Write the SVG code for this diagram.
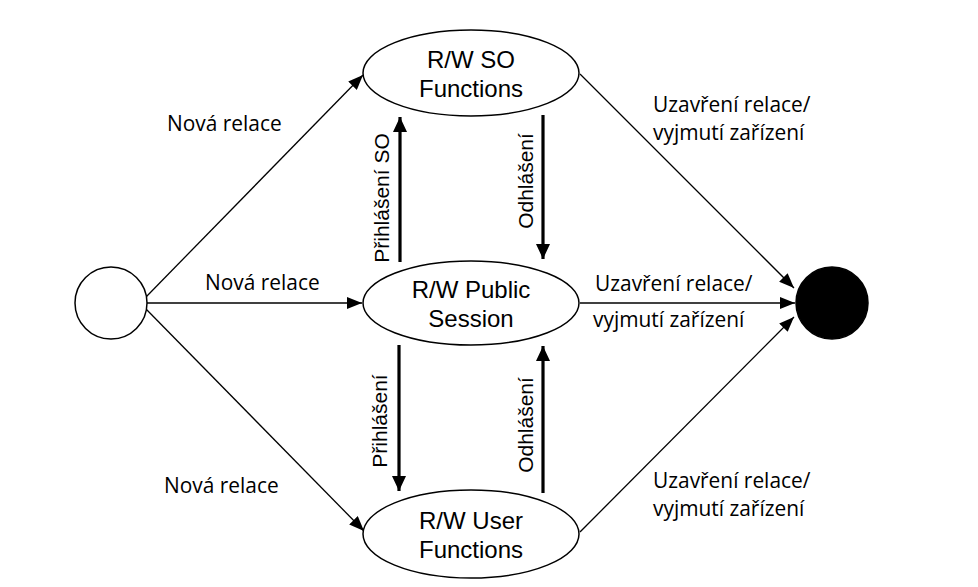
<svg xmlns="http://www.w3.org/2000/svg" width="978" height="587" viewBox="0 0 978 587">
<style>
.node{fill:#fff;stroke:#000;stroke-width:1.5}
.final{fill:#000;stroke:#000;stroke-width:1.5}
.nl{font-family:"Liberation Sans",Arial,sans-serif;font-size:24px;fill:#000;text-anchor:middle}
.el{font-family:"Open Sans","Noto Sans",sans-serif;font-size:20.9px;fill:#000}
.vl{font-family:"Liberation Sans",Arial,sans-serif;font-size:21px;fill:#000;text-anchor:middle}
.thin{stroke:#000;stroke-width:1.3;fill:none;marker-end:url(#ah)}
.thick{stroke:#000;stroke-width:3.2;fill:none;marker-end:url(#ahb)}
</style>
<defs>
<marker id="ah" markerUnits="userSpaceOnUse" markerWidth="15" markerHeight="12" refX="15" refY="6" orient="auto">
<path d="M0,0 L15,6 L0,12 z" fill="#000"/>
</marker>
<marker id="ahb" markerUnits="userSpaceOnUse" markerWidth="15" markerHeight="14" refX="15" refY="7" orient="auto">
<path d="M0,0 L15,7 L0,14 z" fill="#000"/>
</marker>
</defs>
<rect width="978" height="587" fill="#fff"/>
<g id="connectors">
<line class="thin" x1="146" y1="297" x2="363" y2="75"/>
<line class="thin" x1="147" y1="303" x2="362" y2="303"/>
<line class="thin" x1="146" y1="309" x2="364" y2="531"/>
<line class="thin" x1="580" y1="74" x2="794" y2="288"/>
<line class="thin" x1="580" y1="303" x2="795" y2="303"/>
<line class="thin" x1="580" y1="532" x2="794" y2="317"/>
<line class="thick" x1="400" y1="262" x2="400" y2="117"/>
<line class="thick" x1="543" y1="115" x2="543" y2="259"/>
<line class="thick" x1="399" y1="345" x2="399" y2="491"/>
<line class="thick" x1="543" y1="493" x2="543" y2="346"/>
<text class="el" x="167" y="131">Nová relace</text>
<text class="el" x="205" y="290">Nová relace</text>
<text class="el" x="164" y="493">Nová relace</text>
<text class="el" x="653" y="112">Uzavření relace/</text>
<text class="el" x="653" y="140">vyjmutí zařízení</text>
<text class="el" x="595" y="291">Uzavření relace/</text>
<text class="el" x="593" y="327">vyjmutí zařízení</text>
<text class="el" x="653" y="488">Uzavření relace/</text>
<text class="el" x="653" y="516">vyjmutí zařízení</text>
<text class="vl" transform="translate(389,198) rotate(-90)">Přihlášení SO</text>
<text class="vl" transform="translate(533,181) rotate(-90)">Odhlášení</text>
<text class="vl" transform="translate(387,421) rotate(-90)">Přihlášení</text>
<text class="vl" transform="translate(533,425) rotate(-90)">Odhlášení</text>
</g>
<g id="start"><circle class="node" cx="111" cy="303" r="36"/></g>
<g id="end"><circle class="final" cx="832" cy="303" r="36"/></g>
<g id="so">
<ellipse class="node" cx="471" cy="73" rx="108" ry="43"/>
<text class="nl" x="471" y="68">R/W SO</text>
<text class="nl" x="471" y="97">Functions</text>
</g>
<g id="public">
<ellipse class="node" cx="471" cy="303" rx="108" ry="42"/>
<text class="nl" x="471" y="298">R/W Public</text>
<text class="nl" x="471" y="327">Session</text>
</g>
<g id="user">
<ellipse class="node" cx="471" cy="534" rx="108" ry="44"/>
<text class="nl" x="471" y="529">R/W User</text>
<text class="nl" x="471" y="558">Functions</text>
</g>
</svg>
